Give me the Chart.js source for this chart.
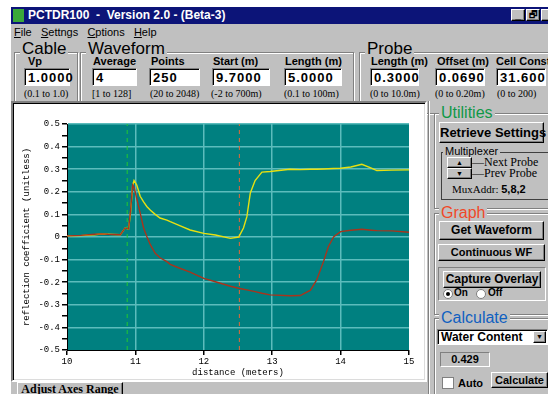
<!DOCTYPE html>
<html>
<head>
<meta charset="utf-8">
<script src="https://cdn.jsdelivr.net/npm/chart.js@4.4.1/dist/chart.umd.min.js"></script>
<style>
  body { margin:0; width:548px; height:394px; overflow:hidden; background:#fff; position:relative; font-family:"Liberation Sans", Arial, sans-serif; }
  .a { position:absolute; white-space:nowrap; }
  .win { left:11px; top:7px; width:537px; height:387px; background:#c0c0c0; }
  .grp { border:1px solid #808080; box-shadow: inset 1px 1px 0 #fff, 1px 1px 0 #fff; }
  .gt { background:#c0c0c0; padding:0 2px; line-height:1; }
  .lbl { font-size:11px; font-weight:bold; }
  .inp { background:#fff; border-top:1px solid #808080; border-left:1px solid #808080; border-right:1px solid #fff; border-bottom:1px solid #fff;
         box-shadow: inset 1px 1px 0 #000; font-size:13px; font-weight:bold; letter-spacing:1px; line-height:17px; padding-left:3px; box-sizing:border-box; }
  .rng { font-family:"Liberation Serif", serif; font-size:10px; }
  .btn { background:#c0c0c0; border:1px solid; border-color:#fff #000 #000 #fff; box-shadow: inset -1px -1px 0 #808080; box-sizing:border-box;
         font-size:12px; font-weight:bold; text-align:center; }
</style>
</head>
<body>
<div class="a win"></div>

<!-- title bar + menu -->
<div class="a" style="left:11px;top:7px;width:537px;height:17px;background:#0c1478;"></div>
<div class="a" style="left:13px;top:9px;width:11px;height:13px;background:#3aa83a;"></div>
<div class="a" style="left:28px;top:8px;color:#fff;font-size:12px;font-weight:bold;line-height:15px;">PCTDR100&nbsp; - &nbsp;Version 2.0 - (Beta-3)</div>
<div class="a btn" style="left:511px;top:9px;width:14px;height:12px;font-size:10px;line-height:10px;">_</div>
<div class="a btn" style="left:526px;top:9px;width:14px;height:12px;font-size:9px;line-height:10px;">&#x1F5D7;</div>
<div class="a btn" style="left:541px;top:9px;width:14px;height:12px;"></div>
<div class="a" style="left:14px;top:26px;font-size:11px;line-height:13px;"><u>F</u>ile&nbsp;&nbsp; <u>S</u>ettngs&nbsp;&nbsp; <u>C</u>ptions&nbsp;&nbsp; <u>H</u>elp</div>

<!-- Cable -->
<div class="a grp" style="left:14px;top:52px;width:62px;height:60px;"></div>
<div class="a gt" style="left:20px;top:40px;font-size:17px;">Cable</div>
<div class="a lbl" style="left:28px;top:55px;">Vp</div>
<div class="a inp" style="left:24px;top:68px;width:46px;height:18px;">1.0000</div>
<div class="a rng" style="left:24px;top:88px;">(0.1 to 1.0)</div>

<!-- Waveform -->
<div class="a grp" style="left:80px;top:52px;width:272px;height:60px;"></div>
<div class="a gt" style="left:86px;top:40px;font-size:17px;">Waveform</div>
<div class="a lbl" style="left:93px;top:55px;">Average</div>
<div class="a lbl" style="left:151px;top:55px;">Points</div>
<div class="a lbl" style="left:213px;top:55px;">Start (m)</div>
<div class="a lbl" style="left:285px;top:55px;">Length (m)</div>
<div class="a inp" style="left:92px;top:68px;width:45px;height:18px;">4</div>
<div class="a inp" style="left:149px;top:68px;width:51px;height:18px;">250</div>
<div class="a inp" style="left:212px;top:68px;width:58px;height:18px;">9.7000</div>
<div class="a inp" style="left:284px;top:68px;width:58px;height:18px;">5.0000</div>
<div class="a rng" style="left:92px;top:88px;">[1 to 128]</div>
<div class="a rng" style="left:150px;top:88px;">(20 to 2048)</div>
<div class="a rng" style="left:211px;top:88px;">(-2 to 700m)</div>
<div class="a rng" style="left:284px;top:88px;">(0.1 to 100m)</div>

<!-- Probe -->
<div class="a grp" style="left:359px;top:52px;width:200px;height:60px;"></div>
<div class="a gt" style="left:365px;top:40px;font-size:17px;">Probe</div>
<div class="a lbl" style="left:371px;top:55px;">Length (m)</div>
<div class="a lbl" style="left:437px;top:55px;">Offset (m)</div>
<div class="a lbl" style="left:496px;top:55px;">Cell Const.</div>
<div class="a inp" style="left:370px;top:68px;width:49px;height:18px;">0.3000</div>
<div class="a inp" style="left:435px;top:68px;width:50px;height:18px;">0.0690</div>
<div class="a inp" style="left:496px;top:68px;width:50px;height:18px;">31.600</div>
<div class="a rng" style="left:370px;top:88px;">(0 to 10.0m)</div>
<div class="a rng" style="left:435px;top:88px;">(0 to 0.20m)</div>
<div class="a rng" style="left:497px;top:88px;">(0 to 200)</div>

<!-- chart frame -->
<div class="a" style="left:11px;top:101px;width:412px;height:277px;border:2px solid;border-color:#808080 #fff #fff #808080;box-shadow:inset 1px 1px 0 #000, inset -1px -1px 0 #dcdcdc;background:#fff;"></div>
<div class="a" style="left:17px;top:105px;width:406px;height:275px;">
  <canvas id="tdr" width="406" height="275"></canvas>
</div>
<div class="a btn" style="left:17px;top:382px;width:106px;height:16px;font-family:'Liberation Serif',serif;font-size:12px;line-height:13px;">Adjust Axes Range</div>

<!-- right panel -->
<div class="a" style="left:428px;top:101px;width:1px;height:293px;background:#808080;border-right:1px solid #fff;"></div>
<div class="a grp" style="left:434px;top:113px;width:120px;height:94px;"></div>
<div class="a gt" style="left:439px;top:105px;font-size:16px;color:#109848;">Utilities</div>
<div class="a btn" style="left:439px;top:122px;width:105px;height:21px;line-height:19px;font-size:13px;">Retrieve Settings</div>
<div class="a grp" style="left:441px;top:152px;width:106px;height:46px;box-shadow:none;border-color:#404040;"></div>
<div class="a gt" style="left:443px;top:146px;font-size:11px;">Multiplexer</div>
<div class="a btn" style="left:447px;top:157px;width:25px;height:11px;font-size:7px;line-height:9px;">&#9650;</div>
<div class="a btn" style="left:447px;top:168px;width:25px;height:11px;font-size:7px;line-height:9px;">&#9660;</div>
<div class="a" style="left:472px;top:156px;font-family:'Liberation Serif',serif;font-size:12px;line-height:13px;">&#8212;Next Probe</div>
<div class="a" style="left:472px;top:167px;font-family:'Liberation Serif',serif;font-size:12px;line-height:13px;">&#8212;Prev Probe</div>
<div class="a" style="left:452px;top:183px;font-family:'Liberation Serif',serif;font-size:11px;line-height:12px;">MuxAddr: <b style="font-family:'Liberation Sans';">5,8,2</b></div>

<div class="a grp" style="left:434px;top:213px;width:120px;height:100px;"></div>
<div class="a gt" style="left:439px;top:205px;font-size:16px;color:#f04828;">Graph</div>
<div class="a btn" style="left:439px;top:221px;width:105px;height:19px;line-height:17px;">Get Waveform</div>
<div class="a btn" style="left:438px;top:244px;width:107px;height:17px;line-height:15px;font-size:11px;">Continuous WF</div>
<div class="a" style="left:438px;top:267px;width:108px;height:34px;border:1px solid;border-color:#808080 #fff #fff #808080;box-sizing:border-box;"></div>
<div class="a btn" style="left:443px;top:271px;width:98px;height:17px;line-height:15px;">Capture Overlay</div>
<div class="a" style="left:443px;top:289px;width:8px;height:8px;border-radius:50%;background:#fff;border:1px solid #808080;"></div>
<div class="a" style="left:446px;top:292px;width:4px;height:4px;border-radius:50%;background:#000;"></div>
<div class="a lbl" style="left:454px;top:287px;font-size:10px;">On</div>
<div class="a" style="left:476px;top:289px;width:8px;height:8px;border-radius:50%;background:#fff;border:1px solid #808080;"></div>
<div class="a lbl" style="left:488px;top:287px;font-size:10px;">Off</div>

<div class="a grp" style="left:434px;top:318px;width:120px;height:90px;"></div>
<div class="a gt" style="left:439px;top:310px;font-size:16px;color:#1060c0;">Calculate</div>
<div class="a inp" style="left:437px;top:329px;width:111px;height:16px;font-size:12px;letter-spacing:0;line-height:14px;">Water Content</div>
<div class="a btn" style="left:533px;top:331px;width:13px;height:12px;font-size:7px;line-height:10px;">&#9660;</div>
<div class="a" style="left:440px;top:352px;width:50px;height:15px;border:1px solid;border-color:#808080 #fff #fff #808080;box-sizing:border-box;font-size:11px;font-weight:bold;text-align:center;line-height:13px;">0.429</div>
<div class="a" style="left:442px;top:377px;width:10px;height:10px;background:#fff;border:1px solid #808080;"></div>
<div class="a lbl" style="left:458px;top:377px;">Auto</div>
<div class="a btn" style="left:491px;top:372px;width:57px;height:16px;line-height:14px;font-size:11px;">Calculate</div>

<script>
// distance (m) along the cable, shared by both traces
var distance = [10, 10.2, 10.4, 10.5, 10.6, 10.78, 10.85, 10.9, 10.93, 10.96, 10.98, 11.02, 11.07, 11.12, 11.17,
  11.22, 11.29, 11.36, 11.46, 11.51, 11.63, 11.8, 12.0, 12.17, 12.39, 12.51, 12.58, 12.63, 12.68, 12.75,
  12.85, 12.97, 13.26, 13.41, 13.56, 13.65, 13.75, 13.82, 13.9, 14.0, 14.15, 14.31, 14.45, 14.53, 14.75, 15];

// yellow trace (current waveform)
var yellowVals = [0.005, 0.006, 0.01, 0.013, 0.012, 0.01, 0.04, 0.035, 0.11, 0.23, 0.25, 0.23, 0.18, 0.155, 0.134,
  0.118, 0.1, 0.084, 0.075, 0.068, 0.053, 0.031, 0.016, 0.009, -0.006, 0.0, 0.04, 0.09, 0.195, 0.25,
  0.287, 0.29, 0.3, 0.298, 0.3, 0.3, 0.301, 0.302, 0.303, 0.304, 0.31, 0.322, 0.305, 0.294, 0.296, 0.297];

// red trace (overlay)
var redVals = [0.005, 0.007, 0.012, 0.014, 0.012, 0.01, 0.04, 0.035, 0.12, 0.23, 0.22, 0.17, 0.106, 0.04, 0.0,
  -0.035, -0.072, -0.092, -0.109, -0.121, -0.136, -0.155, -0.183, -0.198, -0.218, -0.227, -0.231, -0.234, -0.237, -0.242,
  -0.249, -0.256, -0.26, -0.259, -0.235, -0.19, -0.109, -0.043, 0.001, 0.024, 0.03, 0.034, 0.03, 0.028, 0.027, 0.021];

// cursor markers
var startCursor = 10.88;
var endCursor = 12.52;

var monoFont = { family: "'Liberation Mono', 'DejaVu Sans Mono', monospace", size: 9 };

function pts(vals) {
  return distance.map(function (d, i) { return { x: d, y: vals[i] }; });
}

function cursor(x) {
  return [{ x: x, y: -0.5 }, { x: x, y: 0.5 }];
}

var plotBg = {
  id: 'plotBg',
  beforeDraw: function (chart) {
    var a = chart.chartArea, ctx = chart.ctx;
    ctx.save();
    ctx.fillStyle = '#008080';
    ctx.fillRect(a.left, a.top, a.right - a.left, a.bottom - a.top);
    ctx.restore();
  }
};

var config = {
  type: 'scatter',
  data: {
    datasets: [
      { data: pts(redVals), showLine: true, borderColor: '#a8341c', borderWidth: 1.4, pointRadius: 0 },
      { data: pts(yellowVals), showLine: true, borderColor: '#e8e010', borderWidth: 1.4, pointRadius: 0 },
      { data: cursor(startCursor), showLine: true, borderColor: '#20c830', borderWidth: 1, borderDash: [4, 4], pointRadius: 0 },
      { data: cursor(endCursor), showLine: true, borderColor: '#e06838', borderWidth: 1, borderDash: [4, 4], pointRadius: 0 }
    ]
  },
  options: {
    responsive: false,
    animation: false,
    layout: { padding: { top: 19, right: 14, left: 0, bottom: 0 } },
    plugins: { legend: { display: false }, tooltip: { enabled: false } },
    scales: {
      x: {
        type: 'linear', min: 10, max: 15,
        ticks: { stepSize: 1, color: '#000', font: monoFont, padding: 1, maxRotation: 0 },
        grid: {
          color: function (c) { return (c.tick && (c.tick.value === 10 || c.tick.value === 15)) ? 'rgba(0,0,0,0)' : '#5cbcbc'; },
          tickColor: '#000', tickLength: 5, lineWidth: 1.5
        },
        border: { color: '#000', width: 1 },
        title: { display: true, text: 'distance (meters)', color: '#000', font: monoFont, padding: { top: 2, bottom: 2 } },
        afterFit: function (s) { s.height = 30; }
      },
      y: {
        min: -0.5, max: 0.5,
        ticks: {
          stepSize: 0.05, autoSkip: false, color: '#000', font: monoFont, padding: 2,
          callback: function (v) {
            var h = Math.round(v * 100);
            if (h % 10 !== 0) return '';
            return String(h / 100);
          }
        },
        grid: {
          color: function (c) {
            if (!c.tick) return 'rgba(0,0,0,0)';
            var h = Math.round(c.tick.value * 100);
            return (h % 10 === 0 && h !== -50) ? '#5cbcbc' : 'rgba(0,0,0,0)';
          },
          tickColor: '#000', tickLength: 5, lineWidth: 1.5
        },
        border: { color: '#000', width: 1 },
        title: { display: true, text: 'reflection coefficient (unitless)', color: '#000', font: monoFont, padding: { top: 4, bottom: 2 } },
        afterFit: function (s) { s.width = 50; }
      }
    }
  },
  plugins: [plotBg]
};

window.onload = function () {
  var ctx = document.getElementById('tdr');
  window.tdrChart = new Chart(ctx, config);
};
</script>
</body>
</html>
